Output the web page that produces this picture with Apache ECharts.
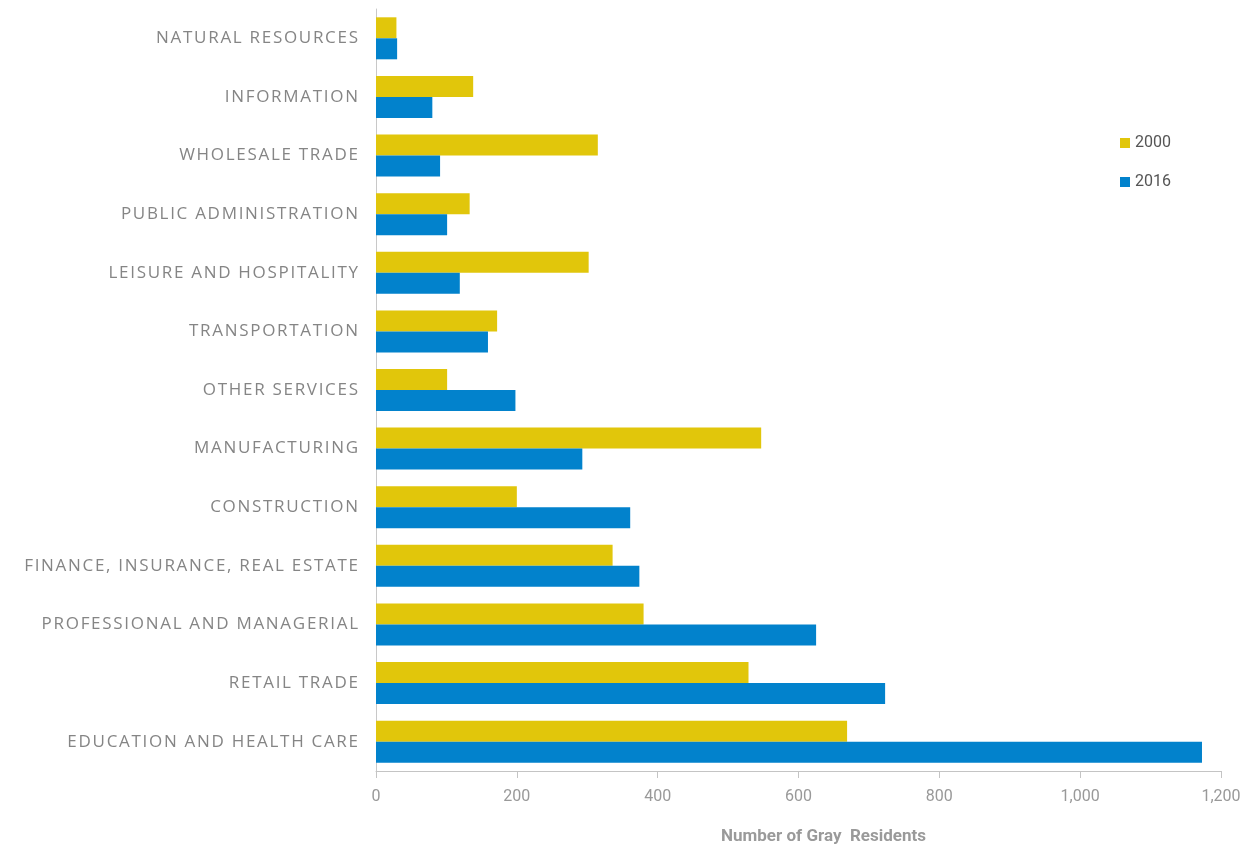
<!DOCTYPE html>
<html><head><meta charset="utf-8">
<script src="https://cdn.jsdelivr.net/npm/echarts@6/dist/echarts.min.js"></script>
<style>html,body{margin:0;padding:0;background:#fff}#c{width:1259px;height:846px}</style>
</head><body><div id="c"></div>
<script>
const categories = ["NATURAL RESOURCES","INFORMATION","WHOLESALE TRADE","PUBLIC ADMINISTRATION","LEISURE AND HOSPITALITY","TRANSPORTATION","OTHER SERVICES","MANUFACTURING","CONSTRUCTION","FINANCE, INSURANCE, REAL ESTATE","PROFESSIONAL AND MANAGERIAL","RETAIL TRADE","EDUCATION AND HEALTH CARE"];
const values2000 = [29,138,315,133,302,172,101,547,200,336,380,529,669];
const values2016 = [30,80,91,101,119,159,198,293,361,374,625,723,1173];
const seriesNames = ["2000","2016"];
const xTicks = [0,200,400,600,800,1000,1200];

const chart = echarts.init(document.getElementById('c'), null, {renderer:'canvas'});
chart.setOption({
  animation:false,
  grid:{left:376,right:38,top:9,bottom:75,containLabel:false,outerBoundsMode:'none'},
  legend:{
    orient:'vertical', left:1115, top:130, itemGap:23, itemTextGap:4,
    itemWidth:10, itemHeight:10, icon:'rect',
    textStyle:{color:'#555',fontSize:16,fontFamily:'Liberation Sans Narrow, Roboto, sans-serif'},
    data:seriesNames
  },
  xAxis:{
    type:'value', min:xTicks[0], max:xTicks[xTicks.length-1], interval:200,
    axisLine:{show:true,lineStyle:{color:'#c4c4c4'}},
    axisTick:{show:true,length:7,lineStyle:{color:'#c4c4c4'}},
    splitLine:{show:false},
    axisLabel:{color:'#999',fontSize:16,margin:18,fontFamily:'Liberation Sans Narrow, Roboto, sans-serif',
      formatter:v=>v.toLocaleString('en-US')},
    name:'Number of Gray  Residents', nameLocation:'middle', nameGap:57,
    nameTextStyle:{color:'#9a9a9a',fontSize:17,fontWeight:'bold',padding:[0,0,0,50],fontFamily:'Liberation Sans Narrow, Roboto, sans-serif'}
  },
  yAxis:{
    type:'category', inverse:true, data:categories,
    axisLine:{show:true,lineStyle:{color:'#c8c8c8'}},
    axisTick:{show:false},
    axisLabel:{color:'#858585',fontSize:17,margin:18,fontFamily:'Open Sans, sans-serif',
      formatter:s=>s.split('').join('\u200A')}
  },
  series:[
    {name:seriesNames[0],type:'bar',data:values2000,barWidth:21,barGap:'0%',itemStyle:{color:'#E1C60B'}},
    {name:seriesNames[1],type:'bar',data:values2016,barWidth:21,barGap:'0%',itemStyle:{color:'#0282CC'}}
  ]
});
</script></body></html>
